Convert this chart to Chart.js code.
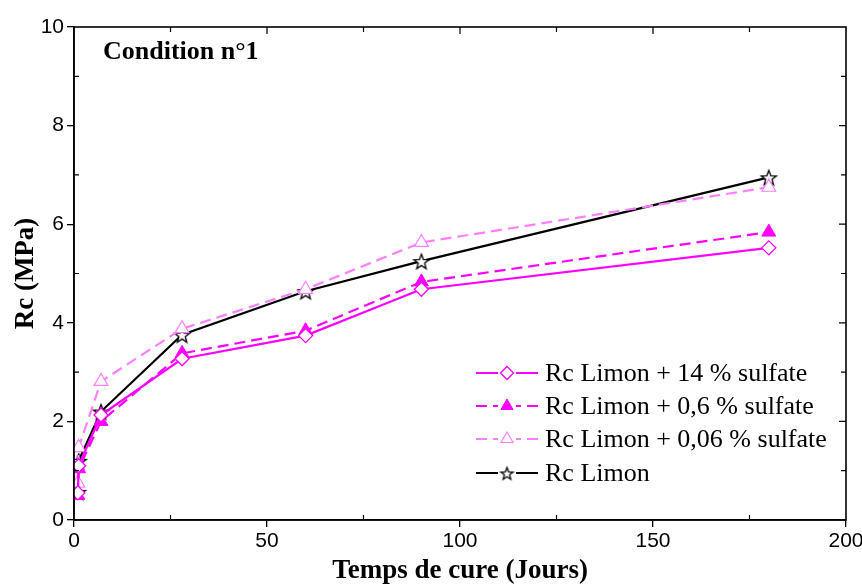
<!DOCTYPE html>
<html>
<head>
  <meta charset="UTF-8">
  <title>Condition n°1</title>
  <script src="https://cdn.jsdelivr.net/npm/chart.js"></script>
  <style>
    body { margin: 0; background: #fff; }
  </style>
</head>
<body>
  <canvas id="rcChart" width="862" height="587"></canvas>
  <script>
    // Temps de cure (jours)
    const days = [1, 1.2, 7, 28, 60, 90, 180];
    const rc14 = [0.55, 1.1, 2.13, 3.27, 3.74, 4.68, 5.52];
    const rc06 = [0.5, 1.04, 2.0, 3.38, 3.84, 4.83, 5.84];
    const rc006 = [0.75, 1.47, 2.81, 3.88, 4.68, 5.63, 6.75];
    const rcLimon = [0.57, 1.2, 2.2, 3.76, 4.64, 5.25, 6.95];
    const seriesNames = [
      "Rc Limon + 14 % sulfate",
      "Rc Limon + 0,6 % sulfate",
      "Rc Limon + 0,06 % sulfate",
      "Rc Limon"
    ];
    const xTicks = [0, 50, 100, 150, 200];
    const yTicks = [0, 2, 4, 6, 8, 10];

    const serif = "'Liberation Serif', 'Times New Roman', serif";
    const sans = "'Liberation Sans', Arial, sans-serif";

    // five-pointed star marker
    function makeStar(r) {
      const c = document.createElement("canvas");
      const s = Math.ceil(r * 2 + 4);
      c.width = s; c.height = s;
      const g = c.getContext("2d");
      g.translate(s / 2, s / 2 + 1);
      g.beginPath();
      for (let i = 0; i < 10; i++) {
        const rr = i % 2 ? r * 0.42 : r;
        const a = -Math.PI / 2 + i * Math.PI / 5;
        g.lineTo(rr * Math.cos(a), rr * Math.sin(a));
      }
      g.closePath();
      g.fillStyle = "#fff";
      g.fill();
      g.lineWidth = 1.3;
      g.strokeStyle = "#000";
      g.stroke();
      return c;
    }
    const starImg = makeStar(8);
    const starSmall = makeStar(6.5);

    const pts = arr => days.map((d, i) => ({ x: d, y: arr[i] }));

    const datasets = [
      {
        label: seriesNames[0], data: pts(rc14),
        borderColor: "#ff00ff", borderWidth: 2.2,
        pointStyle: "rectRot", pointRadius: 7, pointBorderWidth: 1.3,
        pointBackgroundColor: "#fff", pointBorderColor: "#ff00ff"
      },
      {
        label: seriesNames[1], data: pts(rc06),
        borderColor: "#ff00ff", borderWidth: 2.2, borderDash: [11, 6],
        pointStyle: "triangle", pointRadius: 8, pointBorderWidth: 1,
        pointBackgroundColor: "#ff00ff", pointBorderColor: "#ff00ff"
      },
      {
        label: seriesNames[2], data: pts(rc006),
        borderColor: "#ff80ff", borderWidth: 2.2, borderDash: [11, 6],
        pointStyle: "triangle", pointRadius: 8, pointBorderWidth: 1.2,
        pointBackgroundColor: "#fff", pointBorderColor: "#ff80ff"
      },
      {
        label: seriesNames[3], data: pts(rcLimon),
        borderColor: "#000", borderWidth: 2.2,
        pointStyle: starImg, pointRadius: 8,
        pointBackgroundColor: "#fff", pointBorderColor: "#000"
      }
    ];

    // frame, inner ticks, annotation and legend
    const decor = {
      id: "decor",
      afterDatasetsDraw(chart) {
        const { ctx, chartArea: a, scales: { x, y } } = chart;
        ctx.save();
        ctx.strokeStyle = "#000";
        ctx.lineWidth = 1.6;
        ctx.strokeRect(a.left, a.top, a.right - a.left, a.bottom - a.top);
        ctx.lineWidth = 1.2;
        ctx.beginPath();
        for (let v = 25; v < 200; v += 25) {
          const px = x.getPixelForValue(v);
          const len = v % 50 ? 5 : 7;
          ctx.moveTo(px, a.top); ctx.lineTo(px, a.top + len);
          if (v % 50) { ctx.moveTo(px, a.bottom); ctx.lineTo(px, a.bottom - len); }
        }
        for (let v = 1; v < 10; v++) {
          const py = y.getPixelForValue(v);
          const len = v % 2 ? 5 : 7;
          ctx.moveTo(a.right, py); ctx.lineTo(a.right - len, py);
          if (v % 2) { ctx.moveTo(a.left, py); ctx.lineTo(a.left + len, py); }
        }
        ctx.stroke();

        ctx.fillStyle = "#000";
        ctx.font = "bold 26px " + serif;
        ctx.textBaseline = "middle";
        ctx.fillText("Condition n°1", 103, 52);

        // legend
        const rows = [373, 406, 439, 473];
        ctx.font = "26px " + serif;
        chart.data.datasets.forEach((ds, i) => {
          const ly = rows[i];
          ctx.save();
          ctx.strokeStyle = ds.borderColor;
          ctx.lineWidth = ds.borderWidth;
          ctx.setLineDash(ds.borderDash || []);
          ctx.beginPath();
          ctx.moveTo(476, ly); ctx.lineTo(538, ly);
          ctx.stroke();
          ctx.restore();
          ctx.save();
          ctx.fillStyle = "#fff";
          ctx.fillRect(498, ly - 8, 18, 16);
          ctx.fillStyle = ds.pointBackgroundColor;
          ctx.strokeStyle = ds.pointBorderColor;
          ctx.lineWidth = ds.pointBorderWidth || 1;
          Chart.helpers.drawPoint(ctx, {
            pointStyle: ds.pointStyle === starImg ? starSmall : ds.pointStyle,
            rotation: 0, borderWidth: ds.pointBorderWidth || 1,
            radius: ds.pointStyle === "triangle" ? 7 : 6.5
          }, 507, ly);
          ctx.restore();
          ctx.fillStyle = "#000";
          ctx.fillText(ds.label, 545, ly + 1);
        });
        ctx.restore();
      }
    };

    new Chart(document.getElementById("rcChart"), {
      type: "line",
      data: { datasets },
      plugins: [decor],
      options: {
        responsive: false,
        animation: false,
        layout: { padding: { top: 27, right: 16, left: 0, bottom: 0 } },
        plugins: { legend: { display: false }, tooltip: { enabled: false } },
        scales: {
          x: {
            type: "linear", min: 0, max: 200,
            afterBuildTicks: s => { s.ticks = xTicks.map(v => ({ value: v })); },
            afterFit: s => { s.height = 67; s.paddingRight = 0; s.paddingLeft = 0; },
            grid: { drawOnChartArea: false, tickLength: 7, color: "#000", lineWidth: 1.3 },
            border: { color: "#000", width: 1.6 },
            ticks: { color: "#000", font: { family: sans, size: 21 }, padding: 2, maxRotation: 0 },
            title: {
              display: true, text: "Temps de cure (Jours)", color: "#000",
              font: { family: serif, size: 27, weight: "bold" }, padding: { top: 2, bottom: 0 }
            }
          },
          y: {
            min: 0, max: 10,
            afterBuildTicks: s => { s.ticks = yTicks.map(v => ({ value: v })); },
            afterFit: s => { s.width = 74; },
            grid: { drawOnChartArea: false, tickLength: 7, color: "#000", lineWidth: 1.3 },
            border: { color: "#000", width: 1.6 },
            ticks: { color: "#000", font: { family: sans, size: 21 }, padding: 3 },
            title: {
              display: true, text: "Rc (MPa)", color: "#000",
              font: { family: serif, size: 27, weight: "bold" }, padding: { top: 10, bottom: 0 }
            }
          }
        }
      }
    });
  </script>
</body>
</html>
